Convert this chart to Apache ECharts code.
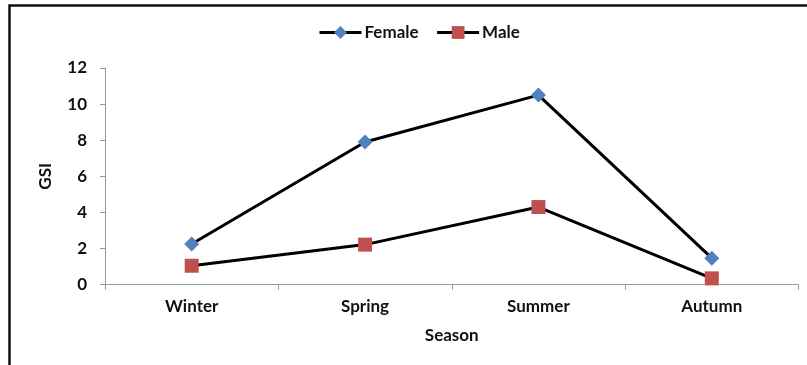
<!DOCTYPE html>
<html><head><meta charset="utf-8">
<script src="https://cdn.jsdelivr.net/npm/echarts@6/dist/echarts.min.js"></script>
<style>html,body{margin:0;padding:0;background:#fff}#c{width:807px;height:365px}</style>
</head><body><div id="c"></div>
<script>
const categories = ['Winter', 'Spring', 'Summer', 'Autumn'];
const female = [2.25, 7.9, 10.5, 1.47];
const male = [1.05, 2.22, 4.3, 0.35];
const yTicks = [0, 2, 4, 6, 8, 10, 12];

const font = 'Lato';
const fs = 17;
const chart = echarts.init(document.getElementById('c'), null, {renderer: 'canvas'});
chart.setOption({
  animation: false,
  backgroundColor: '#fff',
  graphic: [{
    type: 'rect', silent: true,
    shape: {x: 9.5, y: 5.5, width: 900, height: 500},
    style: {fill: 'none', stroke: '#111', lineWidth: 2.5}
  }],
  legend: {
    top: 19, left: 313, itemWidth: 42, itemHeight: 16, itemGap: 17,
    lineStyle: {width: 3, color: '#000'},
    textStyle: {fontFamily: font, fontWeight: 'bold', fontSize: fs, color: '#111', padding: [0, 0, 0, -2]},
    data: ['Female', 'Male']
  },
  grid: {left: 105, right: 8.5, top: 68, bottom: 80.3, containLabel: false},
  xAxis: {
    type: 'category', data: categories, boundaryGap: true,
    name: 'Season', nameLocation: 'middle', nameGap: 42,
    nameTextStyle: {fontFamily: font, fontWeight: 'bold', fontSize: fs, color: '#111'},
    axisLine: {lineStyle: {color: '#999', width: 1}},
    axisTick: {show: true, inside: false, length: 5, lineStyle: {color: '#999'}},
    axisLabel: {fontFamily: font, fontWeight: 'bold', fontSize: fs, color: '#111', margin: 13}
  },
  yAxis: {
    type: 'value', min: yTicks[0], max: yTicks[yTicks.length - 1], interval: 2,
    name: 'GSI', nameLocation: 'middle', nameGap: 51,
    nameTextStyle: {fontFamily: font, fontWeight: 'bold', fontSize: fs, color: '#111'},
    axisLine: {show: true, lineStyle: {color: '#999', width: 1}},
    axisTick: {show: true, length: 5, lineStyle: {color: '#999'}},
    splitLine: {show: false},
    axisLabel: {fontFamily: font, fontWeight: 'bold', fontSize: fs, color: '#111', margin: 18}
  },
  series: [{
    name: 'Female', type: 'line', data: female,
    symbol: 'diamond', symbolSize: 15,
    itemStyle: {color: '#4F81BD'},
    lineStyle: {color: '#000', width: 3}
  }, {
    name: 'Male', type: 'line', data: male,
    symbol: 'rect', symbolSize: 14,
    itemStyle: {color: '#C0504D'},
    lineStyle: {color: '#000', width: 3}
  }]
});
</script></body></html>
